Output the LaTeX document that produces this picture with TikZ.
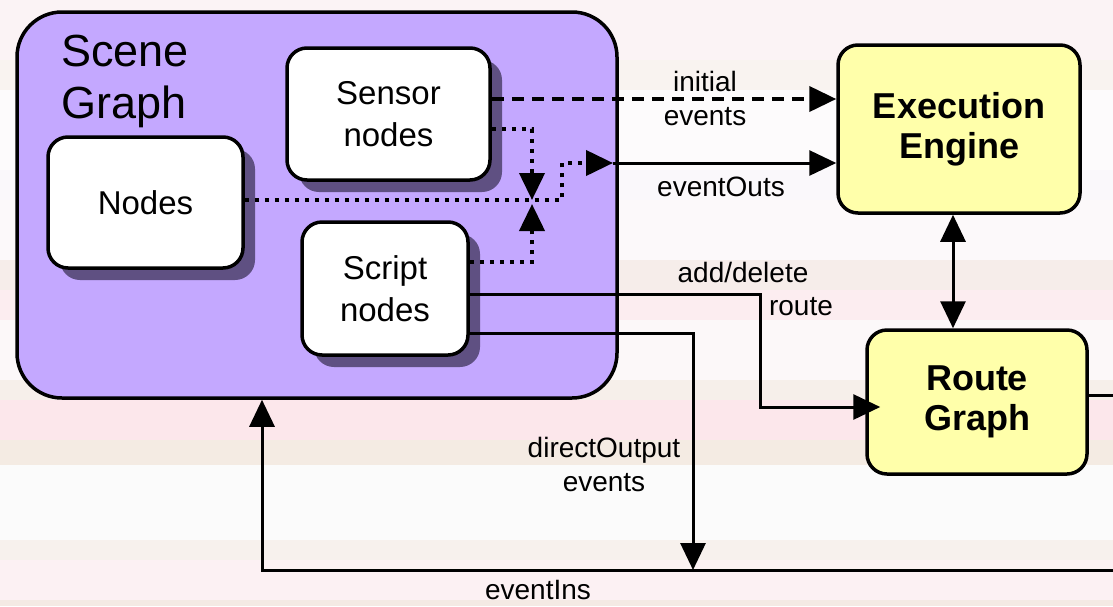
\documentclass[tikz,border=0pt]{standalone}
\usepackage{fontspec}
\setmainfont{Liberation Sans}
\usetikzlibrary{arrows.meta,shadows}
\definecolor{scenefill}{RGB}{196,168,255}
\definecolor{enginefill}{RGB}{255,255,170}
\definecolor{shadowcol}{RGB}{95,80,130}
\begin{document}
\begin{tikzpicture}[x=1pt,y=-1pt,
  box/.style={draw=black, line width=3.5pt, rounded corners=20pt, fill=white, inner sep=0pt, align=center, font=\fontsize{33}{42}\selectfont},
  shadowbox/.style={box, drop shadow={shadow xshift=12pt, shadow yshift=-12pt, fill=shadowcol, opacity=1}},
  enginebox/.style={box, fill=enginefill, font=\bfseries\fontsize{36}{40}\selectfont},
  lbl/.style={inner sep=0pt, align=center, font=\fontsize{28}{34}\selectfont},
  tip/.style={-{Triangle[length=27pt,width=25pt]}},
  solidarrow/.style={line width=3pt, tip},
  solidline/.style={line width=3pt},
  dashedarrow/.style={line width=4pt, dash pattern=on 12pt off 8pt, tip},
  dottedline/.style={line width=4pt, dash pattern=on 4pt off 6pt},
  dottedarrow/.style={dottedline, tip},
  bothtip/.style={line width=3pt, {Triangle[length=27pt,width=25pt]}-{Triangle[length=27pt,width=25pt]}}
]
\useasboundingbox (0,0) rectangle (1113,606);
% background stripes
\fill[color={rgb,255:red,251;green,243;blue,245}] (0,0) rectangle (1113,60);
\fill[color={rgb,255:red,249;green,243;blue,240}] (0,60) rectangle (1113,90);
\fill[color={rgb,255:red,253;green,251;blue,252}] (0,90) rectangle (1113,170);
\fill[color={rgb,255:red,250;green,248;blue,251}] (0,170) rectangle (1113,200);
\fill[color={rgb,255:red,252;green,249;blue,250}] (0,200) rectangle (1113,260);
\fill[color={rgb,255:red,246;green,237;blue,234}] (0,260) rectangle (1113,290);
\fill[color={rgb,255:red,252;green,237;blue,240}] (0,290) rectangle (1113,320);
\fill[color={rgb,255:red,252;green,248;blue,249}] (0,320) rectangle (1113,380);
\fill[color={rgb,255:red,246;green,239;blue,234}] (0,380) rectangle (1113,400);
\fill[color={rgb,255:red,252;green,231;blue,235}] (0,400) rectangle (1113,440);
\fill[color={rgb,255:red,244;green,235;blue,227}] (0,440) rectangle (1113,465);
\fill[color={rgb,255:red,251;green,251;blue,251}] (0,465) rectangle (1113,540);
\fill[color={rgb,255:red,247;green,241;blue,237}] (0,540) rectangle (1113,560);
\fill[color={rgb,255:red,252;green,241;blue,243}] (0,560) rectangle (1113,600);
\fill[color={rgb,255:red,244;green,234;blue,228}] (0,600) rectangle (1113,606);

% Scene graph container
\node[draw=black, line width=3.5pt, rounded corners=45pt, fill=scenefill, minimum width=600pt, minimum height=386pt, inner sep=0pt] (scene) at (317,205) {};
\node[inner sep=0pt, anchor=north west, align=left, font=\fontsize{45}{52}\selectfont] (scenelbl) at (61,35) {Scene\\Graph};

% inner boxes
\node[shadowbox, minimum width=195pt, minimum height=131pt] (nodesbox) at (145.5,202.5) {Nodes};
\node[shadowbox, minimum width=203pt, minimum height=132pt] (sensor) at (388.5,114) {Sensor\\nodes};
\node[shadowbox, minimum width=166pt, minimum height=133pt] (script) at (385,288.5) {Script\\nodes};

% right boxes
\node[enginebox, minimum width=242pt, minimum height=168pt] (exec) at (959,129) {Execution\\Engine};
\node[enginebox, minimum width=220pt, minimum height=144pt] (route) at (977,402) {Route\\Graph};

% coordinates
\coordinate (ie) at ([yshift=15pt]sensor.east);
\coordinate (sd) at ([yshift=-15pt]sensor.east);
\coordinate (hubdown) at (532,200);
\coordinate (hubup) at (532,204);
\coordinate (nd) at ([yshift=2.5pt]nodesbox.east);
\coordinate (nd1) at (562,200);
\coordinate (nd2) at (562,163);
\coordinate (eo) at (613,163);
\coordinate (scd) at ([yshift=26.5pt]script.east);
\coordinate (ad) at ([yshift=-5.5pt]script.east);
\coordinate (adc) at (760,294);
\coordinate (rin) at ([yshift=-5pt]route.west);
\coordinate (do) at ([yshift=-44.5pt]script.east);
\coordinate (doc) at (693,333);
\coordinate (dj) at (693,570);
\coordinate (rightend) at (1113,570);
\coordinate (eicorner) at (262,570);
\coordinate (rout) at ([yshift=7pt]route.east);
\coordinate (routend) at (1113,395);

% connectors
\draw[dashedarrow] (ie) -- (ie -| exec.west);
\draw[dottedarrow] (sd) -| (hubdown);
\draw[dottedarrow] (scd) -| (hubup);
\draw[dottedarrow] (nd) -- (nd1) -- (nd2) -- (eo);
\draw[solidarrow] (eo) -- (eo -| exec.west);
\draw[solidarrow, shorten >=-15pt] (ad) -- (adc) |- (rin);
\draw[solidarrow] (do) -- (doc) -- (dj);
\draw[solidarrow] (rightend) -- (eicorner) -- (eicorner |- scene.south);
\draw[bothtip] (exec.south -| 953,0) -- (route.north -| 953,0);
\draw[solidline] (rout) -- (routend);

% labels
\node[lbl] (linit) at (705,98) {initial\\events};
\node[lbl] (lout) at (721,187) {eventOuts};
\node[lbl] (ladd) at (743,272) {add/delete};
\node[lbl] (lroute) at (801,307) {route};
\node[lbl] (ldirect) at (604,464) {directOutput\\events};
\node[lbl] (lin) at (538,590) {eventIns};
\end{tikzpicture}
\end{document}
